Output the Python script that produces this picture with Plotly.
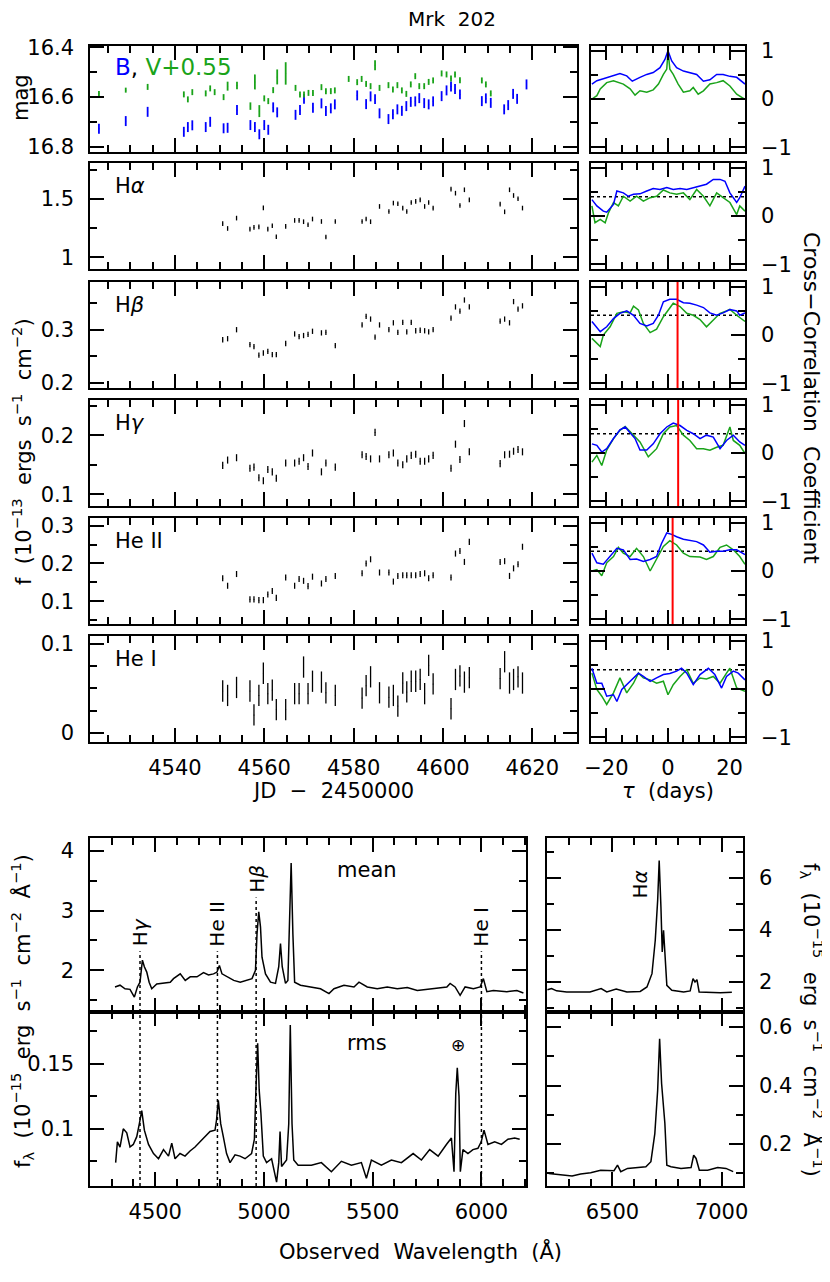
import plotly.graph_objects as go

# ---------------- photometry (mag) ----------------
B_JD = [4523.0, 4529.0, 4533.9, 4542.0, 4542.9, 4543.9, 4546.9, 4547.9, 4550.9, 4551.8,
        4553.9, 4556.9, 4557.9, 4558.9, 4560.0, 4560.9, 4562.0, 4562.9, 4567.0, 4568.0,
        4568.9, 4570.9, 4572.8, 4573.8, 4574.9, 4575.8, 4580.8, 4582.8, 4583.8, 4584.8,
        4585.8, 4587.8, 4588.8, 4589.8, 4590.8, 4591.8, 4592.8, 4593.8, 4594.7, 4595.8,
        4596.8, 4597.8, 4599.7, 4600.8, 4601.8, 4602.7, 4603.8, 4608.7, 4609.6, 4610.7,
        4613.7, 4614.6, 4615.7, 4616.6, 4618.7]
B_MAG = [16.727, 16.696, 16.659, 16.739, 16.720, 16.713, 16.720, 16.699, 16.725, 16.723,
         16.652, 16.712, 16.720, 16.749, 16.712, 16.731, 16.641, 16.661, 16.671, 16.652,
         16.607, 16.643, 16.625, 16.656, 16.645, 16.629, 16.593, 16.628, 16.597, 16.608,
         16.665, 16.688, 16.669, 16.649, 16.655, 16.636, 16.619, 16.617, 16.604, 16.624,
         16.629, 16.617, 16.596, 16.573, 16.557, 16.567, 16.589, 16.616, 16.605, 16.623,
         16.649, 16.632, 16.587, 16.607, 16.549]
B_ERR = 0.02

V_JD = [4523.0, 4529.0, 4533.9, 4542.0, 4542.9, 4543.9, 4546.9, 4547.9, 4548.9, 4550.9,
        4551.8, 4553.9, 4556.9, 4557.9, 4558.9, 4560.0, 4560.9, 4562.0, 4562.9, 4564.8,
        4567.0, 4568.0, 4568.9, 4569.9, 4570.9, 4572.8, 4573.8, 4574.9, 4575.8, 4578.9,
        4580.8, 4581.8, 4582.8, 4583.8, 4584.8, 4585.8, 4587.8, 4588.8, 4589.8, 4590.8,
        4591.8, 4592.8, 4593.8, 4594.7, 4595.8, 4596.8, 4597.8, 4599.7, 4600.8, 4601.8,
        4602.7, 4603.8, 4608.7, 4609.6, 4610.7]
V_MAG = [16.585, 16.572, 16.559, 16.589, 16.609, 16.580, 16.585, 16.565, 16.580, 16.600,
         16.556, 16.553, 16.636, 16.539, 16.656, 16.605, 16.616, 16.572, 16.519, 16.505,
         16.563, 16.589, 16.589, 16.583, 16.583, 16.560, 16.576, 16.576, 16.573, 16.527,
         16.540, 16.527, 16.547, 16.556, 16.472, 16.563, 16.552, 16.569, 16.552, 16.573,
         16.587, 16.549, 16.516, 16.556, 16.556, 16.539, 16.533, 16.505, 16.509, 16.525,
         16.509, 16.532, 16.533, 16.549, 16.585]
V_ERR = [0.010, 0.010, 0.012, 0.012, 0.012, 0.012, 0.012, 0.012, 0.012, 0.012,
         0.018, 0.015, 0.015, 0.030, 0.024, 0.012, 0.012, 0.012, 0.030, 0.045,
         0.012, 0.012, 0.012, 0.012, 0.012, 0.012, 0.012, 0.012, 0.012, 0.012,
         0.012, 0.012, 0.012, 0.012, 0.020, 0.012, 0.012, 0.012, 0.012, 0.012,
         0.012, 0.012, 0.012, 0.012, 0.012, 0.012, 0.012, 0.012, 0.012, 0.012,
         0.012, 0.012, 0.012, 0.012, 0.012]

# ---------------- emission-line light curves (1e-13 ergs/s/cm2) ----------------
SPEC_JD = [4550.7, 4551.8, 4553.8, 4556.8, 4557.7, 4558.8, 4559.8, 4560.8, 4561.8, 4562.7,
           4564.8, 4566.8, 4567.8, 4568.8, 4569.8, 4570.8, 4572.8, 4573.8, 4575.9, 4581.9,
           4582.8, 4583.8, 4584.8, 4585.8, 4587.9, 4588.9, 4589.9, 4591.0, 4591.9, 4592.9,
           4593.9, 4594.9, 4595.9, 4596.8, 4597.8, 4601.8, 4602.8, 4603.8, 4604.8, 4605.9,
           4612.8, 4613.8, 4614.9, 4615.8, 4616.8, 4617.8]
HA_FLUX = [1.289, 1.248, 1.337, 1.243, 1.257, 1.262, 1.425, 1.243, 1.271, 1.177,
           1.266, 1.317, 1.317, 1.306, 1.280, 1.329, 1.308, 1.175, 1.308, 1.308,
           1.329, 1.306, None, 1.437, 1.394, 1.466, 1.460, 1.423, 1.394, 1.471,
           1.480, 1.494, 1.437, 1.471, 1.423, 1.586, 1.551, 1.445, 1.580, 1.494,
           1.457, 1.391, 1.580, 1.531, 1.503, 1.423]
HB_FLUX = [0.281, 0.283, 0.300, 0.272, 0.268, 0.252, 0.256, 0.259, 0.253, 0.253,
           0.274, 0.292, 0.287, 0.289, 0.291, 0.297, 0.294, 0.295, 0.270, 0.309,
           0.325, 0.320, 0.286, 0.309, 0.300, 0.313, 0.295, 0.314, 0.296, 0.314,
           0.298, 0.299, 0.298, 0.296, 0.300, 0.322, 0.343, 0.335, 0.356, 0.343,
           0.316, 0.320, 0.313, 0.353, 0.339, 0.345]
HG_FLUX = [0.149, 0.158, 0.162, 0.144, 0.146, 0.128, 0.123, 0.142, 0.138, 0.127,
           0.153, 0.153, 0.156, 0.162, 0.147, 0.170, 0.138, 0.153, 0.146, 0.167,
           0.164, 0.160, 0.205, 0.160, 0.167, 0.170, 0.153, 0.150, 0.160, 0.166,
           0.168, 0.156, 0.156, 0.160, 0.166, 0.144, 0.185, 0.159, 0.220, 0.172,
           0.152, 0.167, 0.168, 0.173, 0.176, 0.172]
HEII_FLUX = [0.161, 0.141, 0.172, 0.105, 0.105, 0.103, 0.103, 0.118, 0.127, 0.109,
             0.163, 0.141, 0.159, 0.154, 0.140, 0.165, 0.147, 0.159, 0.167, 0.174,
             0.200, 0.211, None, 0.176, 0.176, 0.152, 0.167, 0.169, 0.169, 0.169,
             0.169, 0.172, 0.174, 0.161, 0.169, 0.163, 0.226, 0.233, 0.204, 0.257,
             0.204, 0.206, 0.167, 0.187, 0.198, 0.244]
HEI_FLUX = [0.047, 0.042, 0.051, 0.047, 0.020, 0.042, 0.067, 0.044, 0.048, 0.026,
            0.026, 0.044, 0.044, 0.074, 0.044, 0.058, 0.057, 0.045, 0.042, 0.039,
            0.053, 0.063, None, 0.045, 0.040, 0.042, 0.030, 0.056, 0.046, 0.058,
            0.058, 0.060, 0.044, 0.076, 0.055, 0.027, 0.060, 0.064, 0.057, 0.062,
            0.061, 0.080, 0.056, 0.060, 0.063, 0.056]
LINE_ERR = [0.02, 0.005, 0.006, 0.008, 0.012]

# ---------------- cross-correlation functions (blue: vs B, green: vs V) ----------------
ACF_B_TAU = [-24.7, -23.1, -21.0, -17.7, -15.6, -13.4, -11.6, -9.1, -6.9, -4.8, -2.6, -1.0, 0.0,
             1.2, 2.8, 5.0, 7.1, 9.3, 11.5, 13.6, 15.8, 17.9, 20.1, 22.3, 25.0]
ACF_B_R = [0.31, 0.38, 0.42, 0.49, 0.53, 0.48, 0.37, 0.45, 0.51, 0.55, 0.65, 0.82, 1.0,
           0.79, 0.65, 0.58, 0.55, 0.51, 0.37, 0.40, 0.51, 0.51, 0.47, 0.45, 0.31]
ACF_V_TAU = [-24.7, -23.1, -22.0, -19.9, -17.7, -15.6, -14.5, -12.3, -10.7, -9.1, -6.9, -4.8, -3.1,
             -1.5, -0.4, 0.0, 0.6, 1.7, 3.3, 5.0, 7.1, 8.2, 9.8, 11.5, 13.6, 15.8, 17.9, 20.1,
             22.3, 25.0]
ACF_V_R = [0.0, 0.07, 0.21, 0.34, 0.38, 0.34, 0.31, 0.21, 0.08, 0.17, 0.14, 0.19, 0.31,
           0.51, 0.62, 1.0, 0.62, 0.51, 0.31, 0.14, 0.17, 0.24, 0.10, 0.17, 0.31, 0.34, 0.38,
           0.27, 0.10, -0.01]

HA_B_TAU = [-24.7, -23.1, -21.0, -19.9, -17.7, -16.6, -14.5, -12.9, -11.2, -9.1, -6.9, -4.8, -2.6,
            -0.4, 1.7, 3.9, 6.1, 8.2, 10.4, 12.5, 14.7, 16.9, 18.5, 20.1, 22.3, 23.3, 25.0]
HA_B_R = [0.34, 0.21, 0.10, 0.08, 0.24, 0.52, 0.48, 0.41, 0.45, 0.46, 0.52, 0.57, 0.55,
          0.59, 0.55, 0.57, 0.55, 0.59, 0.62, 0.66, 0.76, 0.76, 0.72, 0.48, 0.28, 0.38, 0.62]
HA_V_TAU = [-24.7, -23.7, -22.0, -20.4, -19.3, -17.7, -16.1, -14.5, -12.3, -10.2, -8.0, -5.8, -3.7,
            -1.5, 0.6, 2.8, 5.0, 7.1, 9.3, 11.5, 13.6, 15.8, 17.9, 20.1, 22.3, 23.3, 25.0]
HA_V_R = [0.21, -0.14, -0.07, -0.14, 0.07, 0.28, 0.21, 0.41, 0.31, 0.41, 0.31, 0.38, 0.41,
          0.54, 0.48, 0.45, 0.48, 0.34, 0.55, 0.41, 0.21, 0.48, 0.38, 0.28, 0.03, 0.21, 0.10]

HB_B_TAU = [-24.7, -23.1, -22.0, -19.9, -17.7, -15.6, -13.4, -11.2, -9.1, -6.9, -4.8, -3.1, -1.5,
            0.6, 2.8, 5.0, 7.1, 9.3, 11.5, 13.6, 15.8, 17.9, 20.1, 22.3, 23.3, 25.0]
HB_B_R = [0.28, 0.14, 0.07, 0.17, 0.34, 0.45, 0.50, 0.41, 0.24, 0.19, 0.24, 0.41, 0.69,
          0.74, 0.74, 0.67, 0.66, 0.62, 0.57, 0.46, 0.41, 0.46, 0.53, 0.50, 0.41, 0.46]
HB_V_TAU = [-24.7, -23.7, -22.0, -21.0, -18.8, -16.6, -14.5, -12.3, -11.2, -9.6, -8.0, -5.8, -3.7,
            -1.5, 0.0, 1.7, 3.9, 6.1, 8.2, 10.4, 12.5, 14.7, 16.9, 19.0, 20.1, 22.3, 25.0]
HB_V_R = [-0.07, -0.14, -0.24, 0.0, 0.17, 0.45, 0.48, 0.46, 0.60, 0.52, 0.24, 0.05, 0.12,
          0.38, 0.52, 0.66, 0.59, 0.45, 0.41, 0.32, 0.17, 0.31, 0.45, 0.50, 0.53, 0.41, 0.28]

HG_B_TAU = [-24.7, -23.1, -21.5, -19.9, -17.7, -15.6, -13.9, -12.3, -10.7, -9.1, -6.9, -4.8, -2.6,
            -0.4, 1.7, 3.9, 6.1, 8.2, 10.4, 12.5, 14.7, 16.9, 19.0, 21.2, 23.3, 25.0]
HG_B_R = [0.19, 0.16, 0.02, 0.09, 0.30, 0.48, 0.54, 0.43, 0.30, 0.06, 0.06, 0.19, 0.40,
          0.54, 0.62, 0.57, 0.47, 0.40, 0.30, 0.37, 0.33, 0.09, 0.26, 0.37, 0.23, 0.16]
HG_V_TAU = [-24.7, -23.1, -21.5, -19.9, -17.7, -15.6, -13.9, -11.2, -9.1, -6.4, -3.7, -1.5, 0.6,
            2.8, 5.0, 7.1, 9.3, 11.5, 13.6, 15.8, 17.9, 20.1, 21.2, 23.3, 25.0]
HG_V_R = [-0.19, -0.05, -0.26, 0.06, 0.30, 0.47, 0.55, 0.37, 0.23, -0.08, 0.09, 0.40, 0.54,
          0.57, 0.37, 0.26, 0.09, 0.09, 0.06, 0.12, 0.16, 0.54, 0.26, 0.16, -0.01]

HEII_B_TAU = [-24.7, -23.1, -21.0, -18.8, -16.6, -14.5, -12.3, -10.2, -8.0, -5.8, -3.7, -2.1, -0.4,
              1.2, 2.8, 5.0, 7.1, 9.3, 11.5, 13.6, 15.8, 17.9, 20.1, 22.3, 25.0]
HEII_B_R = [0.37, 0.17, 0.14, 0.30, 0.47, 0.44, 0.24, 0.25, 0.20, 0.24, 0.30, 0.57, 0.79,
            0.76, 0.71, 0.66, 0.63, 0.61, 0.54, 0.39, 0.41, 0.41, 0.44, 0.44, 0.34]
HEII_V_TAU = [-24.7, -23.1, -21.5, -19.9, -17.7, -16.1, -14.5, -12.3, -10.2, -8.0, -5.8, -3.7, -1.5,
              0.6, 2.8, 5.0, 7.1, 10.4, 12.5, 14.7, 16.9, 19.0, 21.2, 23.3, 25.0]
HEII_V_R = [0.0, 0.03, -0.10, 0.17, 0.30, 0.49, 0.37, 0.30, 0.47, 0.30, 0.0, 0.24, 0.51,
            0.63, 0.54, 0.37, 0.30, 0.29, 0.24, 0.30, 0.49, 0.54, 0.44, 0.30, 0.14]

HEI_B_TAU = [-24.7, -23.1, -21.5, -19.9, -17.7, -16.6, -15.0, -13.4, -11.2, -9.6, -8.0, -5.8, -3.7,
             -1.5, 0.6, 2.8, 4.4, 6.1, 8.2, 10.4, 13.1, 15.2, 17.4, 19.0, 21.2, 22.8, 25.0]
HEI_B_R = [0.43, 0.12, 0.12, -0.15, -0.12, -0.26, -0.01, 0.09, 0.23, 0.33, 0.26, 0.16, 0.23,
           0.30, 0.32, 0.37, 0.43, 0.33, 0.09, 0.30, 0.43, 0.30, 0.02, 0.26, 0.37, 0.33, 0.19]
HEI_V_TAU = [-24.7, -23.1, -21.5, -19.9, -17.7, -15.6, -13.4, -11.2, -9.6, -8.0, -5.8, -3.7, -1.5,
             0.0, 1.7, 3.9, 6.1, 8.2, 10.4, 12.5, 14.7, 16.9, 19.0, 20.1, 22.3, 25.0]
HEI_V_R = [0.33, -0.01, -0.15, -0.32, -0.08, 0.23, -0.08, 0.12, 0.33, 0.23, 0.19, 0.12, 0.16,
           -0.12, 0.09, 0.26, 0.40, 0.12, 0.23, 0.21, 0.26, 0.12, 0.33, 0.43, 0.02, -0.05]

CCF_LAG = [None, None, 3.1, 3.3, 1.5, None]          # red lines (days)
CCF_SIG = [None, 0.40, 0.41, 0.40, 0.41, 0.40]       # dotted significance level

# ---------------- mean and rms spectra (1e-15 erg/s/cm2/A) ----------------
MEAN_WL = [4315, 4338, 4361, 4384, 4404, 4418, 4430, 4441, 4450, 4461, 4472, 4484, 4507, 4538,
           4569, 4584, 4615, 4638, 4661, 4692, 4722, 4745, 4768, 4784, 4795, 4807, 4830, 4861,
           4891, 4922, 4945, 4961, 4968, 4976, 4984, 4991, 5007, 5030, 5053, 5068, 5076, 5084,
           5099, 5110, 5119, 5125, 5133, 5141, 5168, 5214, 5260, 5299, 5322, 5368, 5414, 5437,
           5475, 5521, 5567, 5613, 5659, 5705, 5780, 5841, 5856, 5879, 5902, 5925, 5963, 5994,
           6009, 6025, 6055, 6117, 6163, 6193]
MEAN_F = [1.72, 1.75, 1.69, 1.68, 1.55, 1.72, 1.80, 2.17, 2.06, 1.97, 1.80, 1.69, 1.77, 1.79,
          1.80, 1.86, 1.94, 1.83, 1.89, 1.89, 1.96, 1.92, 1.94, 1.97, 2.08, 1.94, 1.89, 1.83,
          1.80, 1.83, 1.86, 2.00, 2.61, 2.98, 2.73, 2.22, 1.94, 1.80, 1.78, 2.06, 2.45, 2.06,
          1.78, 1.83, 3.17, 3.80, 2.61, 1.80, 1.75, 1.72, 1.69, 1.61, 1.69, 1.75, 1.72, 1.80,
          1.72, 1.69, 1.72, 1.69, 1.71, 1.66, 1.69, 1.72, 1.78, 1.72, 1.58, 1.72, 1.69, 1.72,
          1.86, 1.64, 1.66, 1.64, 1.66, 1.62]
MEAN_RED_WL = [6202, 6221, 6244, 6290, 6336, 6397, 6448, 6474, 6517, 6566, 6627, 6658, 6681, 6696,
               6707, 6714, 6722, 6728, 6734, 6741, 6749, 6772, 6826, 6856, 6869, 6878, 6887, 6897,
               6948, 6994, 7047]
MEAN_RED_F = [1.70, 1.75, 1.66, 1.62, 1.62, 1.62, 1.75, 1.62, 1.73, 1.62, 1.64, 1.81, 2.32, 3.60,
              5.13, 6.66, 4.88, 3.15, 3.98, 2.83, 1.87, 1.68, 1.62, 1.66, 2.13, 2.00, 2.09, 1.62,
              1.59, 1.59, 1.61]
RMS_WL = [4318, 4326, 4338, 4353, 4369, 4384, 4399, 4415, 4427, 4438, 4450, 4469, 4492, 4515,
          4538, 4561, 4576, 4591, 4614, 4637, 4660, 4683, 4706, 4729, 4752, 4775, 4782, 4790,
          4801, 4813, 4828, 4844, 4867, 4890, 4913, 4943, 4956, 4963, 4971, 4978, 4986, 4997,
          5012, 5035, 5058, 5068, 5074, 5081, 5104, 5114, 5121, 5129, 5137, 5157, 5218, 5264,
          5310, 5356, 5402, 5448, 5471, 5494, 5540, 5586, 5632, 5686, 5724, 5762, 5801, 5839,
          5862, 5874, 5882, 5889, 5897, 5903, 5915, 5938, 5961, 5984, 5999, 6012, 6030, 6061,
          6092, 6122, 6153, 6176]
RMS_F = [0.074, 0.090, 0.086, 0.100, 0.097, 0.086, 0.088, 0.094, 0.104, 0.114, 0.099, 0.088,
         0.081, 0.077, 0.084, 0.079, 0.089, 0.077, 0.081, 0.079, 0.083, 0.086, 0.090, 0.094,
         0.098, 0.099, 0.107, 0.122, 0.104, 0.094, 0.081, 0.074, 0.080, 0.079, 0.077, 0.081,
         0.092, 0.130, 0.166, 0.130, 0.112, 0.079, 0.074, 0.077, 0.059, 0.074, 0.098, 0.071,
         0.076, 0.104, 0.180, 0.104, 0.076, 0.072, 0.072, 0.074, 0.067, 0.075, 0.072, 0.074,
         0.062, 0.076, 0.072, 0.076, 0.074, 0.081, 0.076, 0.084, 0.079, 0.088, 0.093, 0.067,
         0.127, 0.147, 0.125, 0.067, 0.084, 0.081, 0.084, 0.085, 0.090, 0.099, 0.088, 0.090,
         0.088, 0.092, 0.093, 0.092]
RMS_RED_WL = [6208, 6231, 6277, 6315, 6354, 6400, 6446, 6507, 6523, 6538, 6569, 6599, 6653, 6676,
              6694, 6707, 6716, 6725, 6734, 6740, 6749, 6768, 6814, 6860, 6872, 6883, 6898, 6936,
              6982, 7020, 7053]
RMS_RED_F = [0.100, 0.098, 0.094, 0.091, 0.098, 0.102, 0.111, 0.109, 0.128, 0.106, 0.117, 0.120,
             0.123, 0.140, 0.236, 0.384, 0.560, 0.407, 0.305, 0.271, 0.128, 0.123, 0.117, 0.120,
             0.162, 0.151, 0.111, 0.111, 0.120, 0.117, 0.106]

LINE_WL = [4430, 4786, 4964, 6000]
LINE_NAMES = ['H<i>γ</i>', 'He II', 'H<i>β</i>', 'He I']
LINE_LABEL_F = [2.32, 2.32, 3.22, 2.32]

# ---------------- figure ----------------
OFF = 8                      # the page body adds an 8px margin
W, H = 830 - OFF, 1282 - OFF
FONT = 'DejaVu Sans'
BLUE = '#0000ff'
GREEN = '#1aa31a'
LW = 1.5


def px(x):
    return (x - OFF) / W


def py(y):
    return 1 - (y - OFF) / H


def frame(**kw):
    d = dict(showline=True, linecolor='black', linewidth=LW, mirror='ticks',
             ticks='inside', ticklen=14, tickwidth=LW, tickcolor='black',
             showgrid=False, zeroline=False, automargin=False,
             tickfont=dict(family=FONT, size=21, color='black'))
    d.update(kw)
    return d


def minor(dt):
    return dict(ticks='inside', ticklen=7, tickwidth=LW, tickcolor='black', dtick=dt, showgrid=False)


def names(n):
    return ('xaxis' if n == 1 else f'xaxis{n}', 'yaxis' if n == 1 else f'yaxis{n}',
            'x' if n == 1 else f'x{n}', 'y' if n == 1 else f'y{n}')


fig = go.Figure()
lay = {}

ROWS = [(46, 152), (163, 269), (282, 388), (400, 506), (518, 624), (636, 742)]
LC_X = (90, 577)
CCF_X = (591, 745)

row_specs = [
    dict(label=None, yr=[16.82, 16.395], dt=0.2, mdt=0.1),
    dict(label='H<i>α</i>', f=HA_FLUX, yr=[0.90, 1.81], dt=0.5, mdt=0.25),
    dict(label='H<i>β</i>', f=HB_FLUX, yr=[0.19, 0.39], dt=0.1, mdt=0.05),
    dict(label='H<i>γ</i>', f=HG_FLUX, yr=[0.08, 0.26], dt=0.1, mdt=0.05),
    dict(label='He II', f=HEII_FLUX, yr=[0.04, 0.32], dt=0.1, mdt=0.05),
    dict(label='He I', f=HEI_FLUX, yr=[-0.0105, 0.109], dt=0.1, mdt=0.025),
]
ccf_sets = [(ACF_B_TAU, ACF_B_R, ACF_V_TAU, ACF_V_R), (HA_B_TAU, HA_B_R, HA_V_TAU, HA_V_R),
            (HB_B_TAU, HB_B_R, HB_V_TAU, HB_V_R), (HG_B_TAU, HG_B_R, HG_V_TAU, HG_V_R),
            (HEII_B_TAU, HEII_B_R, HEII_V_TAU, HEII_V_R), (HEI_B_TAU, HEI_B_R, HEI_V_TAU, HEI_V_R)]

annots = []
for i, (top, bot) in enumerate(ROWS):
    spec = row_specs[i]
    last = i == len(ROWS) - 1
    # light-curve panel
    xa, ya, xr, yr = names(2 * i + 1)
    lay[xa] = frame(domain=[px(LC_X[0]), px(LC_X[1])], anchor=yr, range=[4521, 4630], dtick=20,
                    minor=minor(5), showticklabels=last, ticklabelstandoff=6)
    lay[ya] = frame(domain=[py(bot), py(top)], anchor=xr, range=spec['yr'], dtick=spec['dt'],
                    minor=minor(spec['mdt']), ticklabelstandoff=10)
    if i == 0:
        fig.add_trace(go.Scatter(x=B_JD, y=B_MAG, mode='markers', xaxis=xr, yaxis=yr,
                                 marker=dict(size=1, color=BLUE),
                                 error_y=dict(type='constant', value=B_ERR, width=0, thickness=1.8, color=BLUE)))
        fig.add_trace(go.Scatter(x=V_JD, y=V_MAG, mode='markers', xaxis=xr, yaxis=yr,
                                 marker=dict(size=1, color=GREEN),
                                 error_y=dict(type='data', array=V_ERR, width=0, thickness=1.8, color=GREEN)))
    else:
        fig.add_trace(go.Scatter(x=SPEC_JD, y=spec['f'], mode='markers', xaxis=xr, yaxis=yr,
                                 marker=dict(size=1, color='black'),
                                 error_y=dict(type='constant', value=LINE_ERR[i - 1], width=0,
                                              thickness=1.3, color='black')))
        annots.append(dict(x=px(113), y=py(top + 23), text=spec['label'], xanchor='left',
                           font=dict(family=FONT, size=21, color='black')))
    # CCF panel
    xa, ya, xr, yr = names(2 * i + 2)
    lay[xa] = frame(domain=[px(CCF_X[0]), px(CCF_X[1])], anchor=yr, range=[-25, 25], dtick=20,
                    minor=minor(5), showticklabels=last, ticklabelstandoff=6)
    lay[ya] = frame(domain=[py(bot), py(top)], anchor=xr, range=[-1.1, 1.1], dtick=1,
                    minor=minor(0.5), side='right', ticklabelstandoff=10)
    bt, br, vt, vr = ccf_sets[i]
    if CCF_SIG[i] is not None:
        fig.add_trace(go.Scatter(x=[-25, 25], y=[CCF_SIG[i], CCF_SIG[i]], mode='lines', xaxis=xr, yaxis=yr,
                                 line=dict(color='black', width=1.5, dash='dot')))
    fig.add_trace(go.Scatter(x=vt, y=vr, mode='lines', xaxis=xr, yaxis=yr,
                             line=dict(color=GREEN, width=LW)))
    fig.add_trace(go.Scatter(x=bt, y=br, mode='lines', xaxis=xr, yaxis=yr,
                             line=dict(color=BLUE, width=LW)))
    if CCF_LAG[i] is not None:
        fig.add_trace(go.Scatter(x=[CCF_LAG[i], CCF_LAG[i]], y=[-1.1, 1.1], mode='lines', xaxis=xr, yaxis=yr,
                                 line=dict(color='#ff0000', width=2)))

# spectra panels
SP_LX = (90, 526)
SP_RX = (547, 743)
MEAN_Y = (838, 1012)
RMS_Y = (1012, 1186)
panels = [
    (13, SP_LX, MEAN_Y, [4200, 6205], [1.3, 4.22], 1, 0.5, 'left', False, MEAN_WL, MEAN_F),
    (14, SP_LX, RMS_Y, [4200, 6205], [0.056, 0.19], 0.05, 0.025, 'left', True, RMS_WL, RMS_F),
    (15, SP_RX, MEAN_Y, [6200, 7098], [0.85, 7.52], 2, 1, 'right', False, MEAN_RED_WL, MEAN_RED_F),
    (16, SP_RX, RMS_Y, [6200, 7098], [0.057, 0.651], 0.2, 0.1, 'right', True, RMS_RED_WL, RMS_RED_F),
]
for n, xd, yd, xrange_, yrange_, dt, mdt, side, lab, wl, fl in panels:
    xa, ya, xr, yr = names(n)
    lay[xa] = frame(domain=[px(xd[0]), px(xd[1])], anchor=yr, range=xrange_, dtick=500,
                    minor=minor(100), showticklabels=lab, ticklabelstandoff=6)
    lay[ya] = frame(domain=[py(yd[1]), py(yd[0])], anchor=xr, range=yrange_, dtick=dt,
                    minor=minor(mdt), side=side, ticklabelstandoff=10)
    fig.add_trace(go.Scatter(x=wl, y=fl, mode='lines', xaxis=xr, yaxis=yr,
                             line=dict(color='black', width=LW)))

# marked lines in the blue spectra
for wl, name, ftop in zip(LINE_WL, LINE_NAMES, LINE_LABEL_F):
    fig.add_trace(go.Scatter(x=[wl, wl], y=[1.3, ftop], mode='lines', xaxis='x13', yaxis='y13',
                             line=dict(color='black', width=1.5, dash='dot')))
    fig.add_trace(go.Scatter(x=[wl, wl], y=[0.056, 0.19], mode='lines', xaxis='x14', yaxis='y14',
                             line=dict(color='black', width=1.5, dash='dot')))
    annots.append(dict(x=wl, y=ftop, xref='x13', yref='y13', text=name, textangle=-90,
                       yanchor='bottom', yshift=3, font=dict(family=FONT, size=20, color='black')))
annots.append(dict(x=6627, y=5.13, xref='x15', yref='y15', text='H<i>α</i>', textangle=-90,
                   yanchor='bottom', font=dict(family=FONT, size=20, color='black')))

txt = dict(family=FONT, size=21, color='black')
annots += [
    dict(x=px(452), y=py(19), text='Mrk  202', font=dict(family=FONT, size=20, color='black')),
    dict(x=px(113), y=py(67), xanchor='left',
         text=f'<span style="color:{BLUE}">B</span>, <span style="color:{GREEN}">V+0.55</span>',
         font=dict(family=FONT, size=23, color='black')),
    dict(x=px(21), y=py(98), text='mag', textangle=-90, font=txt),
    dict(x=px(22), y=py(452), textangle=-90, font=txt,
         text='f  (10<sup>−13</sup>  ergs  s<sup>−1</sup>  cm<sup>−2</sup>)'),
    dict(x=px(812), y=py(398), textangle=90, font=dict(family=FONT, size=22, color='black'),
         text='Cross−Correlation  Coefficient'),
    dict(x=px(333), y=py(791), text='JD  −  2450000', font=txt),
    dict(x=px(668), y=py(791), text='<i>τ</i>  (days)', font=txt),
    dict(x=px(367), y=py(870), text='mean', font=txt),
    dict(x=px(367), y=py(1043), text='rms', font=txt),
    dict(x=px(458), y=py(1045), text='⊕', font=dict(family=FONT, size=17, color='black')),
    dict(x=px(22), y=py(1011), textangle=-90, font=txt,
         text='f<sub>λ</sub>  (10<sup>−15</sup>  erg  s<sup>−1</sup>  cm<sup>−2</sup>  Å<sup>−1</sup>)'),
    dict(x=px(812), y=py(1020), textangle=90, font=txt,
         text='f<sub>λ</sub>  (10<sup>−15</sup>  erg  s<sup>−1</sup>  cm<sup>−2</sup>  Å<sup>−1</sup>)'),
    dict(x=px(420), y=py(1251), text='Observed  Wavelength  (Å)', font=txt),
]
for a in annots:
    a.setdefault('xref', 'paper')
    a.setdefault('yref', 'paper')
    a.setdefault('showarrow', False)
    a.setdefault('xanchor', 'center')
    a.setdefault('yanchor', 'middle')

fig.update_layout(width=W, height=H, margin=dict(l=0, r=0, t=0, b=0), showlegend=False,
                  paper_bgcolor='white', plot_bgcolor='white', annotations=annots, **lay)
fig.write_html("out.html")
